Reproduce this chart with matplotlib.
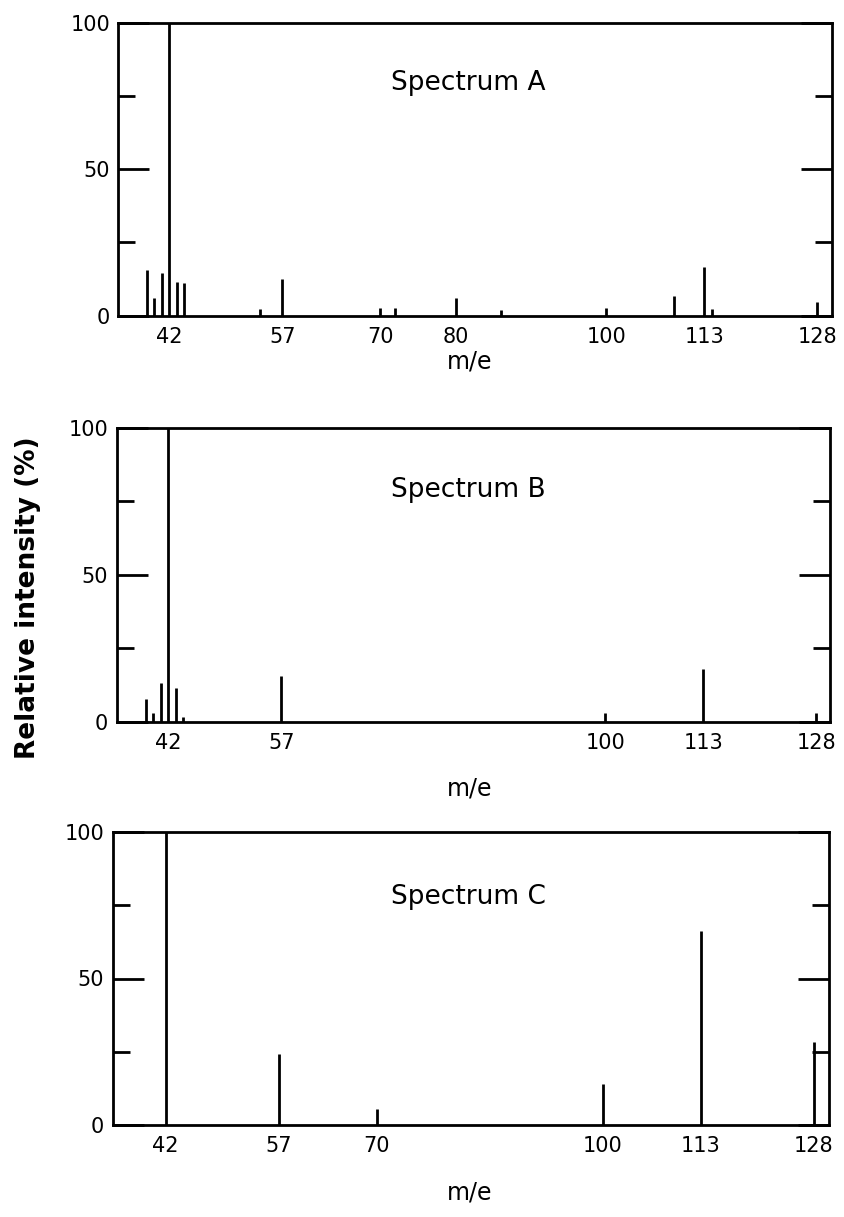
import matplotlib
matplotlib.use("Agg")
import matplotlib.pyplot as plt

# ---- data ----
mz_A = [39, 40, 41, 42, 43, 44, 54, 57, 70, 72, 80, 86, 100, 109, 113, 114, 128]
int_A = [15.4, 6.0, 14.6, 100, 11.4, 11.2, 2.3, 12.5, 2.5, 2.5, 5.9, 2.0, 2.4, 6.8, 16.5, 2.3, 4.6]
ticks_A = [42, 57, 70, 80, 100, 113, 128]

mz_B = [39, 40, 41, 42, 43, 44, 57, 100, 113, 128]
int_B = [7.6, 2.9, 13.1, 100, 11.4, 1.5, 15.6, 2.9, 17.8, 3.1]
ticks_B = [42, 57, 100, 113, 128]

mz_C = [42, 57, 70, 100, 113, 128]
int_C = [100, 24.2, 5.4, 13.9, 66.2, 28.2]
ticks_C = [42, 57, 70, 100, 113, 128]

titles = ["Spectrum A", "Spectrum B", "Spectrum C"]
y_major = [0, 50, 100]
y_minor = [25, 75]

W, H = 844, 1217
fig = plt.figure(figsize=(W / 100, H / 100), dpi=100)
plt.rcParams['font.family'] = ['DejaVu Sans']

# axes boxes in pixels: left, right, y of 0, y of 100
boxes = [(118.3, 831.7, 315.5, 23.0),
         (116.7, 830.0, 721.7, 428.0),
         (112.7, 829.3, 1125.0, 832.0)]
xlims = [(35.23, 129.9), (35.15, 129.8), (34.97, 130.07)]
mlabel_y = [361, 788, 1193]
title_y = [83, 490, 897]

datasets = [(mz_A, int_A, ticks_A), (mz_B, int_B, ticks_B), (mz_C, int_C, ticks_C)]

lw = 2.0
for i, ((mz, inten, ticks), (l, r, y0, y100)) in enumerate(zip(datasets, boxes)):
    ax = fig.add_axes([l / W, 1 - y0 / H, (r - l) / W, (y0 - y100) / H])
    ax.vlines(mz, 0, inten, colors='black', linewidth=lw)
    ax.set_xlim(*xlims[i])
    ax.set_ylim(0, 100)
    for s in ax.spines.values():
        s.set_linewidth(lw)
    ax.set_xticks(ticks)
    ax.set_xticklabels([str(t) for t in ticks], fontsize=15)
    ax.tick_params(axis='x', length=0, pad=8)
    ax.set_yticks(y_major)
    ax.set_yticklabels([str(t) for t in y_major], fontsize=15)
    ax.set_yticks(y_minor, minor=True)
    ax.tick_params(axis='y', which='major', direction='in', length=22, width=lw,
                   left=True, right=True, pad=6)
    ax.tick_params(axis='y', which='minor', direction='in', length=12, width=lw,
                   left=True, right=True)
    fig.text(468 / W, 1 - title_y[i] / H, titles[i], fontsize=19,
             ha='center', va='center')
    fig.text(470 / W, 1 - mlabel_y[i] / H, "m/e", fontsize=17,
             ha='center', va='center')

fig.text(28 / W, 1 - 598 / H, "Relative intensity (%)", rotation=90,
         fontsize=19, fontweight='bold', ha='center', va='center')

fig.savefig("out.png", dpi=100)
